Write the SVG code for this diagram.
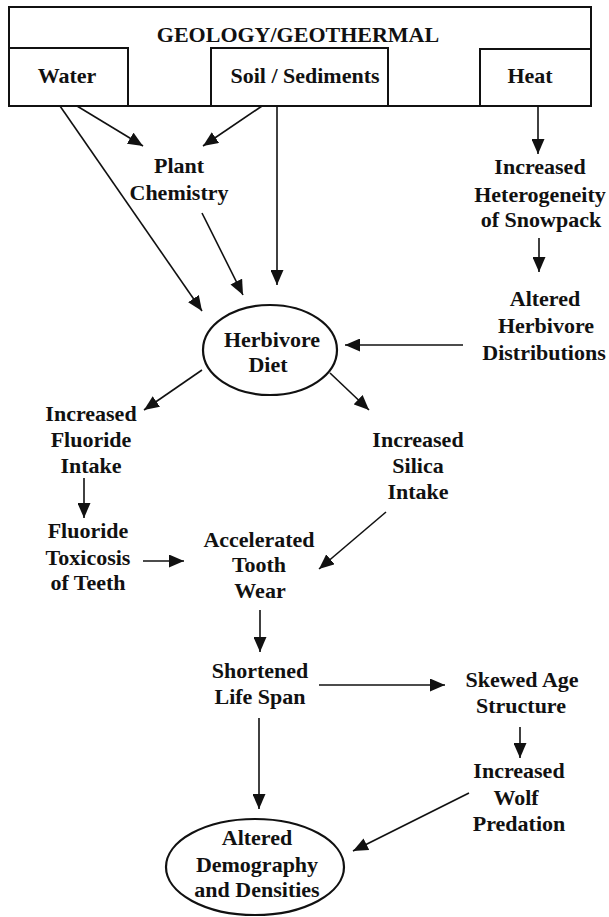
<svg xmlns="http://www.w3.org/2000/svg" width="609" height="917" viewBox="0 0 609 917">
<style>
text{font-family:"Liberation Serif","Times New Roman",serif;font-weight:bold;font-size:22px;fill:#111;text-anchor:middle}
.box{fill:none;stroke:#111;stroke-width:2}
.ell{fill:#fff;stroke:#111;stroke-width:2.2}
.c{stroke:#111;stroke-width:1.6;fill:none;marker-end:url(#ah)}
</style>
<defs>
<marker id="ah" markerUnits="userSpaceOnUse" markerWidth="17" markerHeight="13" refX="15" refY="6.5" orient="auto">
<path d="M0,0 L15,6.5 L0,13 z" fill="#111"/>
</marker>
</defs>
<g id="geology">
<rect class="box" x="9" y="7" width="582" height="99"/>
<text x="298" y="42">GEOLOGY/GEOTHERMAL</text>
</g>
<g id="water">
<rect class="box" x="9" y="48" width="119" height="58"/>
<text x="67" y="83">Water</text>
</g>
<g id="soil">
<rect class="box" x="211" y="48" width="177" height="58"/>
<text x="305" y="83">Soil / Sediments</text>
</g>
<g id="heat">
<rect class="box" x="480" y="49" width="111" height="57"/>
<text x="530" y="83">Heat</text>
</g>
<g id="connectors">
<line class="c" x1="77" y1="106" x2="143" y2="146"/>
<line class="c" x1="262" y1="106" x2="203" y2="146"/>
<line class="c" x1="60" y1="106" x2="202" y2="311"/>
<line class="c" x1="202" y1="213" x2="243" y2="295"/>
<line class="c" x1="277" y1="106" x2="277" y2="285"/>
<line class="c" x1="538" y1="106" x2="538" y2="154"/>
<line class="c" x1="539" y1="238" x2="539" y2="272"/>
<line class="c" x1="463" y1="345" x2="345" y2="345"/>
<line class="c" x1="202" y1="370" x2="144" y2="410"/>
<line class="c" x1="330" y1="373" x2="369" y2="410"/>
<line class="c" x1="84" y1="478" x2="84" y2="518"/>
<line class="c" x1="143" y1="561" x2="184" y2="561"/>
<line class="c" x1="386" y1="512" x2="319" y2="569"/>
<line class="c" x1="260" y1="610" x2="260" y2="652"/>
<line class="c" x1="319" y1="685" x2="445" y2="685"/>
<line class="c" x1="520" y1="727" x2="520" y2="758"/>
<line class="c" x1="259" y1="718" x2="259" y2="809"/>
<line class="c" x1="469" y1="793" x2="353" y2="851"/>
</g>
<g id="plant">
<text x="179" y="173">Plant</text>
<text x="179" y="200">Chemistry</text>
</g>
<g id="snowpack">
<text x="540" y="174">Increased</text>
<text x="540" y="202">Heterogeneity</text>
<text x="541" y="227">of Snowpack</text>
</g>
<g id="distributions">
<text x="545" y="306">Altered</text>
<text x="546" y="333">Herbivore</text>
<text x="544" y="360">Distributions</text>
</g>
<g id="diet">
<ellipse class="ell" cx="270" cy="350" rx="67" ry="45"/>
<text x="272" y="347">Herbivore</text>
<text x="268" y="372">Diet</text>
</g>
<g id="fluoride">
<text x="91" y="421">Increased</text>
<text x="91" y="447">Fluoride</text>
<text x="91" y="473">Intake</text>
</g>
<g id="silica">
<text x="418" y="447">Increased</text>
<text x="418" y="473">Silica</text>
<text x="418" y="499">Intake</text>
</g>
<g id="toxicosis">
<text x="88" y="538">Fluoride</text>
<text x="88" y="565">Toxicosis</text>
<text x="88" y="590">of Teeth</text>
</g>
<g id="toothwear">
<text x="259" y="547">Accelerated</text>
<text x="259" y="572">Tooth</text>
<text x="260" y="598">Wear</text>
</g>
<g id="lifespan">
<text x="260" y="678">Shortened</text>
<text x="260" y="704">Life Span</text>
</g>
<g id="agestructure">
<text x="522" y="687">Skewed Age</text>
<text x="521" y="713">Structure</text>
</g>
<g id="wolf">
<text x="519" y="778">Increased</text>
<text x="516" y="805">Wolf</text>
<text x="519" y="831">Predation</text>
</g>
<g id="demography">
<ellipse class="ell" cx="255" cy="867" rx="89" ry="48"/>
<text x="257" y="845">Altered</text>
<text x="257" y="872">Demography</text>
<text x="257" y="897">and Densities</text>
</g>
</svg>
